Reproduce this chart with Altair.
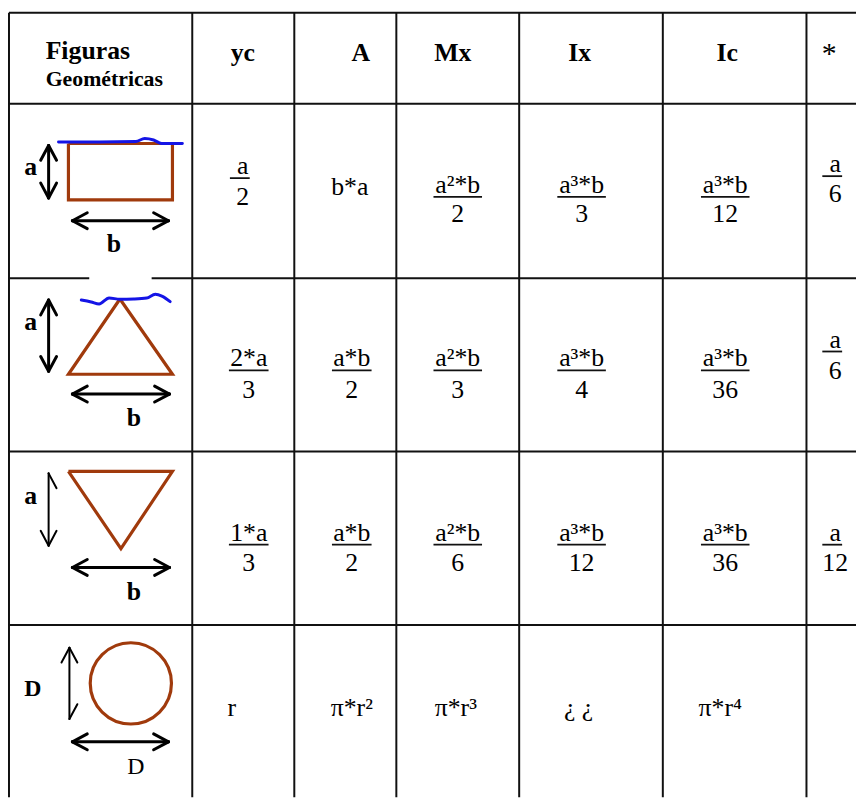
import math
import altair as alt
import pandas as pd

# ---------------- table content ----------------
first_header = ["Figuras", "Geométricas"]
header_labels = ["yc", "A", "Mx", "Ix", "Ic", "*"]
yc_vals = ["a/2", "2*a/3", "1*a/3", "r"]
A_vals = ["b*a", "a*b/2", "a*b/2", "π*r²"]
Mx_vals = ["a²*b/2", "a²*b/3", "a²*b/6", "π*r³"]
Ix_vals = ["a³*b/3", "a³*b/4", "a³*b/12", "¿ ¿"]
Ic_vals = ["a³*b/12", "a³*b/36", "a³*b/36", "π*r⁴"]
star_vals = ["a/6", "a/6", "a/12", ""]
dim_labels_side = ["a", "a", "a", "D"]     # bold label left of the figure
dim_labels_base = ["b", "b", "b", "D"]     # label under the figure

columns = [yc_vals, A_vals, Mx_vals, Ix_vals, Ic_vals, star_vals]

# ---------------- layout (page pixels) ----------------
COL_EDGES = [9, 194, 297, 400, 524, 669, 814]
ROW_EDGES = [9, 101, 277, 452, 627]
HEADER_X = [245, 364, 457, 585, 734, 837]
HEADER_BASE = 58
CELL_X = [
    [245, 353, 462, 587, 732, 843],
    [251, 355, 462, 587, 732, 843],
    [251, 355, 462, 587, 732, 843],
    [234, 355, 460, 584, 727, 843],
]
BAR_Y = [
    [176, None, 195, 195, 195, 174],
    [370, 370, 370, 370, 370, 351],
    [546, 546, 546, 546, 546, 546],
    [None] * 6,
]
DEN_DY = [
    [27, 0, 25, 25, 25, 26],
    [28] * 6,
    [27] * 6,
    [0] * 6,
]
PLAIN_BASE = [193, None, None, 719]
SIDE_LABEL_POS = [(31, 173), (31, 329), (31, 505), (33, 699)]
BASE_LABEL_POS = [(115, 251), (135, 426), (135, 602), (137, 777)]

FIG_POLYS = {
    "rect": [(69, 141), (174, 141), (174, 198), (69, 198), (69, 141)],
    "tri_up": [(121, 298), (174, 374), (69, 374), (121, 298)],
    "tri_down": [(69, 472), (174, 472), (122, 550), (69, 472)],
}
CIRCLE_C = (132, 686)
CIRCLE_D = 82

ARROWS = [  # x1, y1, x2, y2, head at start, head at end, stroke width
    (49, 143, 49, 196, "full", "full", 3),
    (73, 219, 170, 219, "full", "full", 3),
    (49, 299, 49, 371, "full", "full", 3),
    (73, 394, 171, 394, "full", "full", 3),
    (49, 474, 49, 547, "half", "full", 2),
    (73, 569, 171, 569, "full", "full", 3),
    (70, 650, 70, 722, "full", "half", 2),
    (73, 745, 170, 745, "full", "full", 3),
]
SCRIBBLES = {
    "s1": [(59, 139.5), (100, 139.5), (137, 139), (146, 136), (155, 137.5),
           (163, 141), (184, 141)],
    "s2": [(82, 299), (92, 301), (100, 303), (110, 297), (121, 298.3),
           (135, 298), (148, 297), (156.7, 293.3), (163.3, 295), (171.7, 300.7)],
}

INK = "#111111"
BROWN = "#A03A0C"
BLUE = "#1414E6"
FONT = "Liberation Serif"
FS = 26

XS = alt.Scale(domain=[8, 864], nice=False, zero=False)
YS = alt.Scale(domain=[8, 801], nice=False, zero=False, reverse=True)


def ex(field="x"):
    return alt.X(f"{field}:Q", scale=XS, axis=None)


def ey(field="y"):
    return alt.Y(f"{field}:Q", scale=YS, axis=None)


# ---------------- grid ----------------
grid = []
for x in COL_EDGES:
    grid.append(dict(x=x, y=ROW_EDGES[0], x2=x, y2=801))
for y in ROW_EDGES:
    if y == 277:
        grid.append(dict(x=COL_EDGES[0], y=y, x2=90, y2=y))
        grid.append(dict(x=153, y=y, x2=864, y2=y))
    else:
        grid.append(dict(x=COL_EDGES[0], y=y, x2=864, y2=y))
grid_df = pd.DataFrame(grid)

# ---------------- texts and fraction bars ----------------
bold_center, bold_left, reg_center, bars = [], [], [], []
for t, hx in zip(header_labels, HEADER_X):
    if t == "*":
        reg_center.append(dict(x=hx, y=HEADER_BASE + 2, t=t, fs=30))
    else:
        bold_center.append(dict(x=hx, y=HEADER_BASE, t=t, fs=26))
bold_left.append(dict(x=46, y=56, t=first_header[0], fs=26))
bold_left.append(dict(x=46, y=83, t=first_header[1], fs=22))

for r in range(4):
    for c, col in enumerate(columns):
        val = col[r]
        if not val:
            continue
        cx = CELL_X[r][c]
        if "/" in val:
            num, den = val.split("/")
            by = BAR_Y[r][c]
            half = 10 if len(num) == 1 else (20 if len(num) == 3 else 24.5)
            off = -3 if len(num) == 1 else 0
            bars.append(dict(x=cx + off - half, y=by, x2=cx + off + half, y2=by))
            reg_center.append(dict(x=cx, y=by - 4, t=num, fs=FS))
            reg_center.append(dict(x=cx, y=by + DEN_DY[r][c], t=den, fs=FS))
        else:
            reg_center.append(dict(x=cx, y=PLAIN_BASE[r], t=val, fs=FS))

for r in range(4):
    sx, sy = SIDE_LABEL_POS[r]
    bold_center.append(dict(x=sx, y=sy, t=dim_labels_side[r], fs=26 if r < 3 else 24))
    bx, by = BASE_LABEL_POS[r]
    if r < 3:
        bold_center.append(dict(x=bx, y=by, t=dim_labels_base[r], fs=26))
    else:
        reg_center.append(dict(x=bx, y=by, t=dim_labels_base[r], fs=24))

# ---------------- figures ----------------
poly_rows = []
for name, pts in FIG_POLYS.items():
    for i, (x, y) in enumerate(pts):
        poly_rows.append(dict(id=name, i=i, x=x, y=y))
poly_df = pd.DataFrame(poly_rows)

scr_rows = []
for name, pts in SCRIBBLES.items():
    for i, (x, y) in enumerate(pts):
        scr_rows.append(dict(id=name, i=i, x=x, y=y))
scr_df = pd.DataFrame(scr_rows)

circle_df = pd.DataFrame([dict(x=CIRCLE_C[0], y=CIRCLE_C[1])])

HL, HW = 15, 8
arrow_segs = []
for x1, y1, x2, y2, h1, h2, w in ARROWS:
    arrow_segs.append(dict(x=x1, y=y1, x2=x2, y2=y2, w=w))
    L = math.hypot(x2 - x1, y2 - y1)
    ux, uy = (x2 - x1) / L, (y2 - y1) / L
    for (tx, ty, dx, dy, h) in [(x1, y1, -ux, -uy, h1), (x2, y2, ux, uy, h2)]:
        if h == "none":
            continue
        bx, by = tx - HL * dx, ty - HL * dy
        nx, ny = -dy, dx
        barbs = [(bx + HW * nx, by + HW * ny), (bx - HW * nx, by - HW * ny)]
        if h == "half":
            barbs = [max(barbs, key=lambda p: p[0])]
        for px, py in barbs:
            arrow_segs.append(dict(x=tx, y=ty, x2=px, y2=py, w=w))
arrow_df = pd.DataFrame(arrow_segs)

# ---------------- layers ----------------
grid_layer = alt.Chart(grid_df).mark_rule(color=INK, strokeWidth=2).encode(
    x=ex(), y=ey(), x2="x2:Q", y2="y2:Q")
bar_layer = alt.Chart(pd.DataFrame(bars)).mark_rule(color=INK, strokeWidth=1.8).encode(
    x=ex(), y=ey(), x2="x2:Q", y2="y2:Q")
poly_layer = alt.Chart(poly_df).mark_line(color=BROWN, strokeWidth=3.2, strokeJoin="miter").encode(
    x=ex(), y=ey(), detail="id:N", order="i:Q")
circle_layer = alt.Chart(circle_df).mark_point(
    shape="circle", filled=False, color=BROWN, strokeWidth=3.2, size=CIRCLE_D ** 2, opacity=1).encode(
    x=ex(), y=ey())
arrow_layer = alt.Chart(arrow_df).mark_rule(color="#000000", strokeCap="round").encode(
    x=ex(), y=ey(), x2="x2:Q", y2="y2:Q", strokeWidth=alt.StrokeWidth("w:Q", scale=None))
scr_layer = alt.Chart(scr_df).mark_line(color=BLUE, strokeWidth=3, interpolate="monotone",
                                        strokeCap="round").encode(
    x=ex(), y=ey(), detail="id:N", order="i:Q")


def text_layer(rows, weight, align):
    return alt.Chart(pd.DataFrame(rows)).mark_text(
        font=FONT, fontWeight=weight, align=align, baseline="alphabetic", color="#000000").encode(
        x=ex(), y=ey(), text="t:N", size=alt.Size("fs:Q", scale=None))


chart = alt.layer(
    grid_layer, bar_layer, poly_layer, circle_layer, arrow_layer, scr_layer,
    text_layer(bold_center, "bold", "center"),
    text_layer(bold_left, "bold", "left"),
    text_layer(reg_center, "normal", "center"),
).properties(
    width=856, height=793, padding=0,
    autosize=alt.AutoSizeParams(type="none"),
    background="white",
).configure_view(stroke=None)

chart.save("out.html", embed_options={"renderer": "svg", "actions": False})
